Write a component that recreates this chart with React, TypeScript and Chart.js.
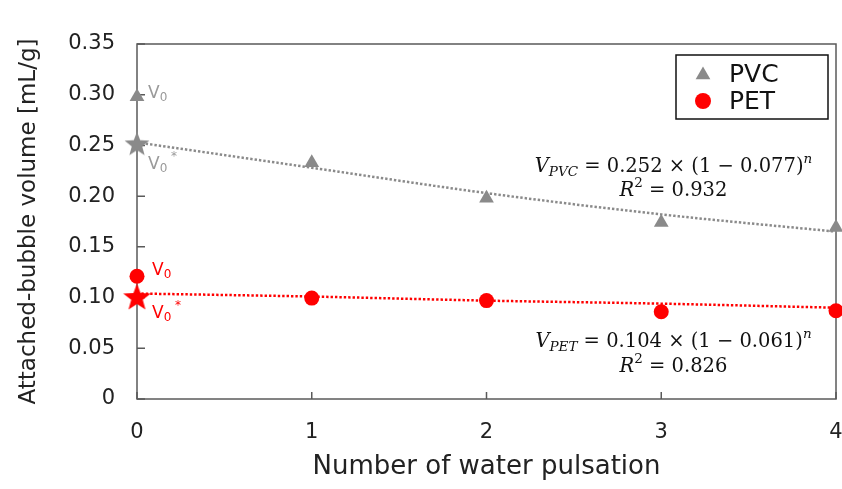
import React, { useEffect, useRef } from 'react';
import { Chart, registerables } from 'chart.js';

Chart.register(...registerables);

// ---------------- data ----------------
const pulsations = [0, 1, 2, 3, 4];
const pvcMeasured = [0.298, 0.233, 0.198, 0.174, 0.169];
const petMeasured = [0.121, 0.0995, 0.097, 0.086, 0.087];
const pvcFit = [0.253, 0.228, 0.203, 0.182, 0.165];
const petFit = [0.104, 0.101, 0.097, 0.094, 0.09];
const pvcV0Star = 0.252;
const petV0Star = 0.101;

const xTickValues = [0, 1, 2, 3, 4];
const xTickLabels = ['0', '1', '2', '3', '4'];
const yTickValues = [0, 0.05, 0.1, 0.15, 0.2, 0.25, 0.3, 0.35];
const yTickLabels = ['0', '0.05', '0.10', '0.15', '0.20', '0.25', '0.30', '0.35'];
const legendLabels = ['PVC', 'PET'];

const xTitle = 'Number of water pulsation';
const yTitle = 'Attached-bubble volume [mL/g]';

const pvcEqText = { v: 'V', sub: 'PVC', body: ' = 0.252 × (1 − 0.077)', sup: 'n' };
const pvcR2Text = { r: 'R', sup: '2', body: ' = 0.932' };
const petEqText = { v: 'V', sub: 'PET', body: ' = 0.104 × (1 − 0.061)', sup: 'n' };
const petR2Text = { r: 'R', sup: '2', body: ' = 0.826' };

// --------------- styles ---------------
const GRAY = '#8a8a8a';
const GRAY_TEXT = '#9a9a9a';
const RED = '#ff0000';
const AXIS_TEXT = '#222222';
const FRAME = '#5a5a5a';
const SANS = '"DejaVu Sans", Arial, sans-serif';
const SERIF = '"DejaVu Serif", serif';

// annotation anchors (data coords for equations)
const eqAnchors = {
  pvcEq: { x: 3.07, y: 0.224 },
  pvcR2: { x: 3.07, y: 0.2 },
  petEq: { x: 3.07, y: 0.051 },
  petR2: { x: 3.07, y: 0.0266 },
};

function makeStar(color: string, R: number): HTMLCanvasElement {
  const size = Math.ceil(R * 2 + 2);
  const c = document.createElement('canvas');
  c.width = size;
  c.height = size;
  const ctx = c.getContext('2d')!;
  const cx = size / 2;
  const cy = size / 2 + 0.0955 * R;
  const r = R * 0.42;
  ctx.beginPath();
  for (let i = 0; i < 10; i++) {
    const a = -Math.PI / 2 + (i * Math.PI) / 5;
    const rad = i % 2 === 0 ? R : r;
    ctx.lineTo(cx + rad * Math.cos(a), cy + rad * Math.sin(a));
  }
  ctx.closePath();
  ctx.fillStyle = color;
  ctx.fill();
  return c;
}

type Seg = { text: string; font: string; dy?: number };
function drawSegs(ctx: CanvasRenderingContext2D, segs: Seg[], x: number, y: number, align: 'left' | 'center') {
  let total = 0;
  const widths = segs.map((s) => {
    ctx.font = s.font;
    const w = ctx.measureText(s.text).width;
    total += w;
    return w;
  });
  let cx = align === 'center' ? x - total / 2 : x;
  ctx.textAlign = 'left';
  ctx.textBaseline = 'alphabetic';
  segs.forEach((s, i) => {
    ctx.font = s.font;
    ctx.fillText(s.text, cx, y + (s.dy || 0));
    cx += widths[i];
  });
}

const framePlugin = {
  id: 'frameTicks',
  beforeDatasetsDraw(chart: any) {
    const { ctx, chartArea } = chart;
    const xs = chart.scales.x;
    const ys = chart.scales.y;
    ctx.save();
    ctx.strokeStyle = FRAME;
    ctx.lineWidth = 1.5;
    ctx.strokeRect(chartArea.left, chartArea.top, chartArea.right - chartArea.left, chartArea.bottom - chartArea.top);
    ctx.beginPath();
    yTickValues.forEach((v) => {
      const py = ys.getPixelForValue(v);
      ctx.moveTo(chartArea.left, py);
      ctx.lineTo(chartArea.left + 8, py);
    });
    xTickValues.forEach((v) => {
      const px = xs.getPixelForValue(v);
      ctx.moveTo(px, chartArea.bottom);
      ctx.lineTo(px, chartArea.bottom - 7);
    });
    ctx.stroke();
    ctx.restore();
  },
};

const annotationPlugin = {
  id: 'annotations',
  afterDatasetsDraw(chart: any) {
    const { ctx, chartArea } = chart;
    const xs = chart.scales.x;
    const ys = chart.scales.y;
    ctx.save();

    // V0 labels
    const x0 = xs.getPixelForValue(pulsations[0]);
    const vFont = `17px ${SANS}`;
    const subFont = `12px ${SANS}`;
    const astFont = `12px ${SANS}`;
    ctx.fillStyle = GRAY_TEXT;
    drawSegs(ctx, [
      { text: 'V', font: vFont },
      { text: '0', font: subFont, dy: 3 },
    ], x0 + 11, ys.getPixelForValue(pvcMeasured[0]) + 1, 'left');
    drawSegs(ctx, [
      { text: 'V', font: vFont },
      { text: '0', font: subFont, dy: 3 },
      { text: ' *', font: astFont, dy: -9 },
    ], x0 + 11, ys.getPixelForValue(pvcV0Star) + 26, 'left');
    ctx.fillStyle = RED;
    drawSegs(ctx, [
      { text: 'V', font: vFont },
      { text: '0', font: subFont, dy: 3 },
    ], x0 + 15, ys.getPixelForValue(petMeasured[0]) - 1, 'left');
    drawSegs(ctx, [
      { text: 'V', font: vFont },
      { text: '0', font: subFont, dy: 3 },
      { text: ' *', font: astFont, dy: -9 },
    ], x0 + 15, ys.getPixelForValue(petV0Star) + 21, 'left');

    // equations
    const it = `italic 19.5px ${SERIF}`;
    const up = `19.5px ${SERIF}`;
    const itSmall = `italic 13.5px ${SERIF}`;
    const upSmall = `13.5px ${SERIF}`;
    ctx.fillStyle = '#111';
    const eq = (t: any, a: any) =>
      drawSegs(ctx, [
        { text: t.v, font: it },
        { text: t.sub, font: itSmall, dy: 4 },
        { text: t.body, font: up },
        { text: t.sup, font: itSmall, dy: -9 },
      ], xs.getPixelForValue(a.x), ys.getPixelForValue(a.y), 'center');
    const r2 = (t: any, a: any) =>
      drawSegs(ctx, [
        { text: t.r, font: it },
        { text: t.sup, font: upSmall, dy: -9 },
        { text: t.body, font: up },
      ], xs.getPixelForValue(a.x), ys.getPixelForValue(a.y), 'center');
    eq(pvcEqText, eqAnchors.pvcEq);
    r2(pvcR2Text, eqAnchors.pvcR2);
    eq(petEqText, eqAnchors.petEq);
    r2(petR2Text, eqAnchors.petR2);

    // legend
    const bx = chartArea.right - 160;
    const by = chartArea.top + 11;
    const bw = 152;
    const bh = 64;
    ctx.fillStyle = '#fff';
    ctx.fillRect(bx, by, bw, bh);
    ctx.strokeStyle = '#111';
    ctx.lineWidth = 1.5;
    ctx.strokeRect(bx, by, bw, bh);
    const mx = bx + 27;
    const r1y = by + 19;
    const r2y = by + 46;
    const tr = 8.5;
    ctx.fillStyle = GRAY;
    ctx.beginPath();
    for (let i = 0; i < 3; i++) {
      const a = -Math.PI / 2 + (i * 2 * Math.PI) / 3;
      ctx.lineTo(mx + tr * Math.cos(a), r1y + 1 + tr * Math.sin(a));
    }
    ctx.closePath();
    ctx.fill();
    ctx.fillStyle = RED;
    ctx.beginPath();
    ctx.arc(mx, r2y, 8, 0, Math.PI * 2);
    ctx.fill();
    ctx.fillStyle = '#111';
    ctx.font = `25px ${SANS}`;
    ctx.textAlign = 'left';
    ctx.textBaseline = 'middle';
    ctx.fillText(legendLabels[0], bx + 53, r1y + 1);
    ctx.fillText(legendLabels[1], bx + 53, r2y + 1);

    ctx.restore();
  },
};

export default function App() {
  const ref = useRef<HTMLCanvasElement | null>(null);

  useEffect(() => {
    if (!ref.current) return;
    const grayStar = makeStar(GRAY, 13);
    const redStar = makeStar(RED, 14.5);
    const pts = (ys: number[]) => pulsations.map((x, i) => ({ x, y: ys[i] }));

    const chart = new Chart(ref.current, {
      type: 'scatter',
      data: {
        datasets: [
          {
            label: legendLabels[0],
            data: pts(pvcMeasured),
            pointStyle: 'triangle',
            pointRadius: 8.5,
            backgroundColor: GRAY,
            borderColor: GRAY,
            borderWidth: 0,
            order: 0,
            clip: false,
          } as any,
          {
            label: legendLabels[1],
            data: pts(petMeasured),
            pointStyle: 'circle',
            pointRadius: 7.5,
            backgroundColor: RED,
            borderColor: RED,
            borderWidth: 0,
            order: 0,
            clip: false,
          } as any,
          {
            label: 'PVC V0*',
            data: [{ x: pulsations[0], y: pvcV0Star }],
            pointStyle: grayStar,
            pointRadius: 13,
            order: 0,
            clip: false,
          } as any,
          {
            label: 'PET V0*',
            data: [{ x: pulsations[0], y: petV0Star }],
            pointStyle: redStar,
            pointRadius: 14,
            order: 0,
            clip: false,
          } as any,
          {
            label: 'PVC fit',
            data: pts(pvcFit),
            showLine: true,
            pointRadius: 0,
            borderColor: GRAY,
            borderWidth: 2.5,
            borderDash: [2.4, 2],
            cubicInterpolationMode: 'monotone',
            fill: false,
            order: 1,
            clip: false,
          } as any,
          {
            label: 'PET fit',
            data: pts(petFit),
            showLine: true,
            pointRadius: 0,
            borderColor: RED,
            borderWidth: 2.5,
            borderDash: [2.4, 2],
            cubicInterpolationMode: 'monotone',
            fill: false,
            order: 1,
            clip: false,
          } as any,
        ],
      },
      options: {
        animation: false,
        responsive: false,
        events: [],
        layout: { autoPadding: false, padding: { top: 44, right: 6, left: 0, bottom: 0 } } as any,
        plugins: { legend: { display: false }, tooltip: { enabled: false } },
        scales: {
          x: {
            type: 'linear',
            min: 0,
            max: 4,
            afterFit: (s: any) => {
              s.height = 90;
              s.paddingLeft = 0;
              s.paddingRight = 0;
            },
            afterBuildTicks: (s: any) => {
              s.ticks = xTickValues.map((v) => ({ value: v }));
            },
            ticks: {
              padding: 21,
              color: AXIS_TEXT,
              font: { family: SANS, size: 21 },
              callback: (v: any) => {
                const i = xTickValues.indexOf(Number(v));
                return i >= 0 ? xTickLabels[i] : '';
              },
            },
            grid: { display: false, drawTicks: false },
            border: { display: false },
            title: {
              display: true,
              text: xTitle,
              color: AXIS_TEXT,
              font: { family: SANS, size: 26 },
              padding: { top: 0, bottom: 6 },
            },
          },
          y: {
            type: 'linear',
            min: 0,
            max: 0.35,
            afterFit: (s: any) => {
              s.width = 137;
              s.paddingTop = 0;
              s.paddingBottom = 0;
            },
            afterBuildTicks: (s: any) => {
              s.ticks = yTickValues.map((v) => ({ value: v }));
            },
            ticks: {
              padding: 22,
              color: AXIS_TEXT,
              font: { family: SANS, size: 21 },
              callback: (v: any) => {
                const i = yTickValues.findIndex((t) => Math.abs(t - Number(v)) < 1e-9);
                return i >= 0 ? yTickLabels[i] : '';
              },
            },
            grid: { display: false, drawTicks: false },
            border: { display: false },
            title: {
              display: true,
              text: yTitle,
              color: AXIS_TEXT,
              font: { family: SANS, size: 23 },
              padding: { top: 15, bottom: 0 },
            },
          },
        },
      },
      plugins: [framePlugin, annotationPlugin],
    });
    return () => chart.destroy();
  }, []);

  return (
    <div style={{ position: 'absolute', left: 0, top: 0, width: 842, height: 489, background: '#fff' }}>
      <canvas ref={ref} width={842} height={489} style={{ display: 'block' }} />
    </div>
  );
}
